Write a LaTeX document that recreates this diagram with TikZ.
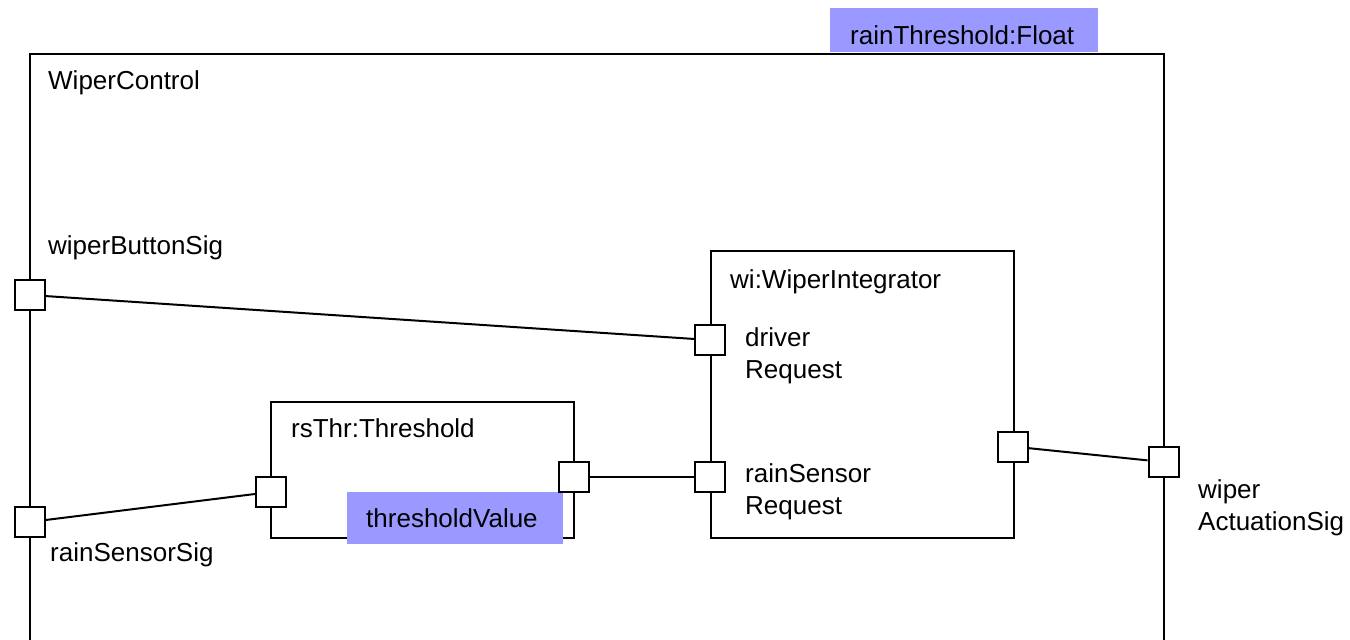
\documentclass[tikz,border=0pt]{standalone}
\usepackage{fontspec}
\setmainfont{Liberation Sans}
\definecolor{paramblue}{HTML}{9999FF}
\begin{document}
\begin{tikzpicture}[x=1pt,y=-1pt,
  every node/.style={font=\fontsize{26}{32}\selectfont},
  partbox/.style={draw, line width=2pt, rectangle, inner sep=0pt, anchor=north west},
  port/.style={draw, fill=white, line width=2pt, rectangle, inner sep=0pt,
    minimum width=30, minimum height=30},
  param/.style={fill=paramblue, inner sep=0pt, anchor=north west},
  lbl/.style={anchor=base west, inner sep=0pt, align=left},
  wire/.style={line width=2pt}]
\useasboundingbox (0,0) rectangle (1350,640);
\clip (0,0) rectangle (1350,640);

% parameter of the composite
\node[param, minimum width=268, minimum height=44] (pthr) at (830,8) {};
\node[lbl] (pthrtxt) at (850,44) {rainThreshold:Float};

% composite structure
\node[partbox, minimum width=1134, minimum height=700] (wc) at (29,53) {};
\node[lbl] (wctxt) at (48,89) {WiperControl};

% parts
\node[partbox, minimum width=303, minimum height=136] (thr) at (270,401) {};
\node[lbl] (thrtxt) at (291,437) {rsThr:Threshold};
\node[param, minimum width=216, minimum height=52] (tv) at (347,492) {};
\node[lbl] (tvtxt) at (366,527) {thresholdValue};

\node[partbox, minimum width=303, minimum height=287] (wi) at (710,250) {};
\node[lbl] (witxt) at (730,288) {wi:WiperIntegrator};

% ports
\node[port] (pbtn) at (29.5,295) {};
\node[port] (prs) at (29.5,522) {};
\node[port] (pthin) at (271,492) {};
\node[port] (pthout) at (573.5,476.5) {};
\node[port] (pdrv) at (710,340) {};
\node[port] (pwrs) at (710,476.5) {};
\node[port] (pwout) at (1012.5,446.5) {};
\node[port] (pact) at (1163.5,462) {};

% port labels (baseline given for the last line)
\node[lbl] (lbtn) at (48,254) {wiperButtonSig};
\node[lbl] (lrs) at (50,561) {rainSensorSig};
\node[lbl] (ldrv) at (745,378) {driver\\Request};
\node[lbl] (lwrs) at (745,514) {rainSensor\\Request};
\node[lbl] (lact) at (1198,530) {wiper\\ActuationSig};

% connectors
\draw[wire] (pbtn) -- (pdrv);
\draw[wire] (prs) -- (pthin);
\draw[wire] (pthout) -- (pwrs);
\draw[wire] (pwout) -- (pact);
\end{tikzpicture}
\end{document}
